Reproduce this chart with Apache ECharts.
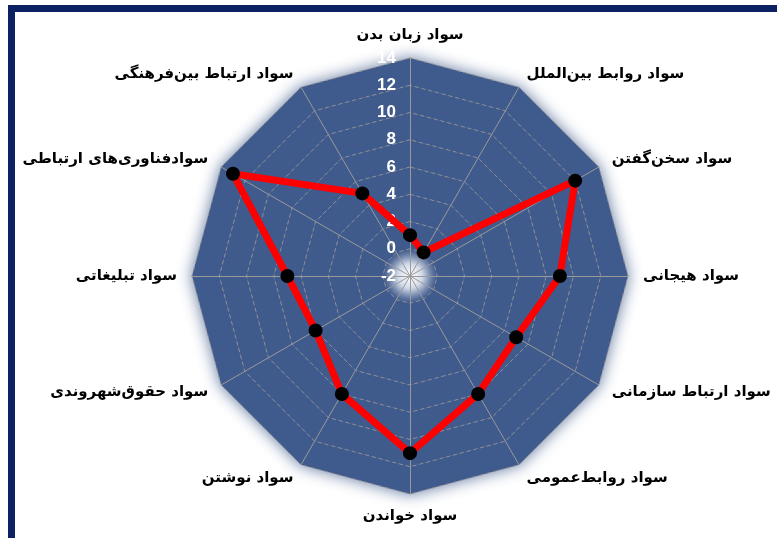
<!DOCTYPE html>
<html>
<head>
<meta charset="utf-8">
<script src="https://cdn.jsdelivr.net/npm/echarts@6/dist/echarts.min.js"></script>
<style>
  body { margin: 0; background: #fff; }
  #frame { position: absolute; left: 8px; top: 5px; width: 769px; height: 533px;
           border-top: 7px solid #0c2161; border-left: 7px solid #0c2161; box-sizing: border-box; }
  #chart { position: absolute; left: 0; top: 0; width: 777px; height: 538px; }
</style>
</head>
<body>
<div id="frame"></div>
<div id="chart"></div>
<script>
// indicators, clockwise from the top
var categories = [
  'سواد زبان بدن',
  'سواد روابط بین‌الملل',
  'سواد سخن‌گفتن',
  'سواد هیجانی',
  'سواد ارتباط سازمانی',
  'سواد روابط‌عمومی',
  'سواد خواندن',
  'سواد نوشتن',
  'سواد حقوق‌شهروندی',
  'سواد تبلیغاتی',
  'سوادفناوری‌های ارتباطی',
  'سواد ارتباط بین‌فرهنگی'
];
var values = [1, 0, 12, 9, 7, 8, 11, 8, 6, 7, 13, 5];
var axisMin = -2, axisMax = 14, axisStep = 2;

// echarts radar runs counter-clockwise, so flip the order (keep the top one first)
function ccw(arr) { return [arr[0]].concat(arr.slice(1).reverse()); }

var blue = '#3f5a8c';
var indicators = ccw(categories).map(function (n, i) {
  var o = { name: n, min: axisMin, max: axisMax };
  if (i === 0) o.axisLabel = { show: true };
  return o;
});

var myChart = echarts.init(document.getElementById('chart'));
var ringColors = [];
for (var k = 0; k < (axisMax - axisMin) / axisStep; k++) {
  ringColors.push(k === 0 ? new echarts.graphic.RadialGradient(0.5, 0.5, 0.5, [
    { offset: 0, color: '#ffffff' },
    { offset: 0.45, color: '#d6ddeb' },
    { offset: 1, color: blue }
  ]) : blue);
}

myChart.setOption({
  animation: false,
  radar: {
    center: [410, 276],
    radius: 218,
    startAngle: 90,
    shape: 'polygon',
    splitNumber: (axisMax - axisMin) / axisStep,
    indicator: indicators,
    axisName: { color: '#000', fontSize: 15, fontWeight: 'bold', fontFamily: 'DejaVu Sans' },
    nameGap: 15,
    axisLine: { lineStyle: { color: '#9a9a9a', width: 1 } },
    splitLine: { lineStyle: { color: '#8f8f8f', width: 1, type: [4, 3] } },
    splitArea: { show: true, areaStyle: { color: ringColors, shadowBlur: 16, shadowColor: 'rgba(63,90,140,0.85)' } },
    axisLabel: { show: false, color: '#fff', fontSize: 17, fontWeight: 'bold', fontFamily: 'Liberation Sans', margin: 14 }
  },
  series: [{
    type: 'radar',
    symbol: 'circle',
    symbolSize: 14,
    itemStyle: { color: '#000' },
    lineStyle: { color: '#ff0000', width: 7 },
    data: [{ value: ccw(values) }]
  }]
});
</script>
</body>
</html>
